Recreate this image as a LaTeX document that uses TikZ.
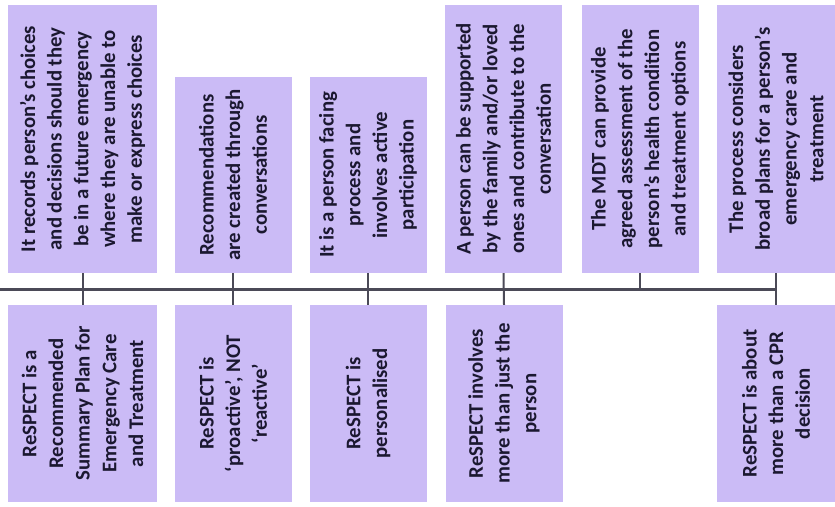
\documentclass[tikz,border=0pt]{standalone}
\usepackage{fontspec}
\setmainfont{Carlito}
\definecolor{lilac}{HTML}{CBBBF6}
\definecolor{spinegrey}{HTML}{4B4A57}
\definecolor{inkblue}{HTML}{1B1830}

\begin{document}
\begin{tikzpicture}[x=1pt, y=1pt,
  card/.style={rotate=90, fill=lilac, inner sep=2pt, align=center, text=inkblue,
    font=\bfseries\fontsize{20.8}{26.7}\selectfont},
  tallcard/.style={card, minimum width=268pt, minimum height=117pt},
  shortcard/.style={card, minimum width=196pt, minimum height=117pt},
  lowcard/.style={card, minimum width=197pt, minimum height=117pt},
  spine/.style={spinegrey, line width=3pt},
  tick/.style={spinegrey, line width=2pt}
]
\useasboundingbox (0,0) rectangle (835,506);

% statements above the line
\node[tallcard, minimum height=149pt] (t1) at (82.5,367) {It records person’s choices\\and decisions should they\\be in a future emergency\\where they are unable to\\make or express choices};
\node[shortcard] (t2) at (233,331) {Recommendations\\are created through\\conversations};
\node[shortcard] (t3) at (368,331) {It is a person facing\\process and\\involves active\\participation};
\node[tallcard] (t4) at (503.5,367) {A person can be supported\\by the family and/or loved\\ones and contribute to the\\conversation};
\node[tallcard] (t5) at (640,367) {The MDT can provide\\agreed assessment of the\\person’s health condition\\and treatment options};
\node[tallcard, minimum height=118pt] (t6) at (776,367) {The process considers\\broad plans for a person’s\\emergency care and\\treatment};

% statements below the line
\node[lowcard, minimum height=149pt] (b1) at (82.5,102.5) {ReSPECT is a\\Recommended\\Summary Plan for\\Emergency Care\\and Treatment};
\node[lowcard] (b2) at (233,102.5) {ReSPECT is\\‘proactive’, NOT\\‘reactive’};
\node[lowcard] (b3) at (368,102.5) {ReSPECT is\\personalised};
\node[lowcard] (b4) at (504,102.5) {ReSPECT involves\\more than just the\\person};
\node[lowcard, minimum height=118pt] (b6) at (776,102.5) {ReSPECT is about\\more than a CPR\\decision};

\coordinate (spineL) at (0,216);
\draw[spine] (spineL) -- (b6.east |- spineL);

\draw[tick] (t1.west) -- (b1.east);
\draw[tick] (t2.west) -- (b2.east);
\draw[tick] (t3.west) -- (b3.east);
\draw[tick] (t4.west) -- (b4.east);
\draw[tick] (t5.west) -- (t5.west |- spineL);
\draw[tick] (t6.west) -- (b6.east);
\end{tikzpicture}
\end{document}
